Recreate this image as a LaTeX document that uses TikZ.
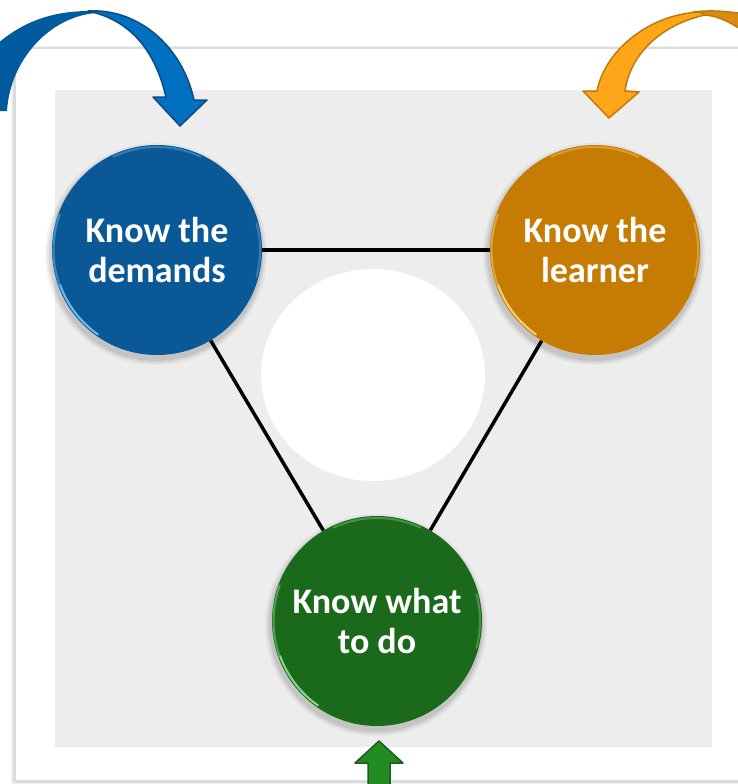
\documentclass[tikz,border=0pt]{standalone}
\usepackage{fontspec}
\setmainfont{Carlito}
\usetikzlibrary{calc}
\definecolor{panelgray}{HTML}{EDEDED}
\definecolor{bluebtn}{HTML}{0A5896}
\definecolor{bluehl}{HTML}{7CC8F7}
\definecolor{orangebtn}{HTML}{C67C03}
\definecolor{orangehl}{HTML}{FFDB85}
\definecolor{greenbtn}{HTML}{1B6A1B}
\definecolor{greenhl}{HTML}{95E495}
\definecolor{bluelight}{HTML}{0070C0}
\definecolor{bluedark}{HTML}{005A9E}
\definecolor{blueline}{HTML}{0F4C81}
\definecolor{orangelight}{HTML}{FFA519}
\definecolor{orangedark}{HTML}{DB8B0E}
\definecolor{orangeline}{HTML}{BF7A0C}
\definecolor{greenarrow}{HTML}{228B22}
\definecolor{greenline}{HTML}{1E5C1E}
\pgfdeclarelayer{background}
\pgfsetlayers{background,main}
\begin{document}
\begin{tikzpicture}[x=1pt,y=-1pt,
  btn/.style={circle, minimum size=210pt, inner sep=2pt, text=white, align=center,
    font=\fontsize{36}{40}\selectfont\bfseries},
  conn/.style={draw=black, line width=3.5pt},
  hl/.style={line width=2pt, line cap=round},
  arrowpart/.style={line width=1.5pt, line join=round}]
\useasboundingbox (0,0) rectangle (737,784);
\begin{pgfonlayer}{background}
  \fill[black!6] (11,46) rectangle (760,784);
  \fill[black!14] (13,47) rectangle (760,783);
  \fill[white] (16,49) rectangle (760,780);
  \fill[panelgray] (55,90) rectangle (712,747);
  \fill[white] (373,375) ellipse [x radius=112pt, y radius=106pt];
\end{pgfonlayer}

\node[btn, fill=bluebtn] (demands) at (157,250) {Know the\\demands};
\node[btn, fill=orangebtn] (learner) at (595,250) {Know the\\learner};
\node[btn, fill=greenbtn] (todo) at (377,621) {Know what\\to do};

\begin{pgfonlayer}{background}
  \foreach \n in {demands,learner,todo}{
    \foreach \r/\o in {111/0.04,109/0.06,107/0.08}{
      \fill[black,opacity=\o] ($(\n.center)+(-1,4)$) circle[radius=\r pt];
    }
  }
  \draw[conn] (demands) -- (learner);
  \draw[conn] (demands) -- (todo);
  \draw[conn] (learner) -- (todo);
\end{pgfonlayer}

\foreach \n/\c in {demands/bluehl, learner/orangehl, todo/greenhl}{
  \begin{scope}[shift={(\n.center)}, x=1pt, y=1pt]
    \draw[hl, \c, opacity=0.9] (200:103pt) arc[start angle=200, end angle=235, radius=103pt];
    \draw[hl, \c, opacity=0.45] (160:103.5pt) arc[start angle=160, end angle=200, radius=103.5pt];
    \draw[hl, \c, opacity=0.35] (65:103pt) arc[start angle=65, end angle=115, radius=103pt];
    \draw[hl, \c, opacity=0.35] (-15:103pt) arc[start angle=-15, end angle=15, radius=103pt];
  \end{scope}
}

% blue curved arrow
\fill[bluedark] (-3,44) .. controls (25,20) and (55,11) .. (90,11) -- (97,13)
  .. controls (50,16) and (10,60) .. (7,111) -- (-3,111) -- cycle;
\filldraw[arrowpart, fill=bluelight, draw=blueline] (88,11) .. controls (137,8) and (182,45) .. (194,100)
  -- (207,100) -- (180,126) -- (153,97) -- (166,97)
  .. controls (155,50) and (130,20) .. (88,11) -- cycle;

% orange curved arrow
\filldraw[arrowpart, fill=orangedark, draw=orangeline] (693,12) .. controls (710,10) and (725,11) .. (745,14)
  -- (745,32) .. controls (730,22) and (718,16) .. (705,15) -- cycle;
\filldraw[arrowpart, fill=orangelight, draw=orangeline] (700,12) .. controls (650,14) and (605,50) .. (597,91)
  -- (583,91) -- (609,118) -- (639,92) -- (625,91)
  .. controls (630,55) and (660,25) .. (705,15) -- cycle;

% green up arrow
\filldraw[arrowpart, fill=greenarrow, draw=greenline] (379,741) -- (403,763) -- (390,763) -- (390,790)
  -- (368,790) -- (368,763) -- (355,763) -- cycle;
\end{tikzpicture}
\end{document}
